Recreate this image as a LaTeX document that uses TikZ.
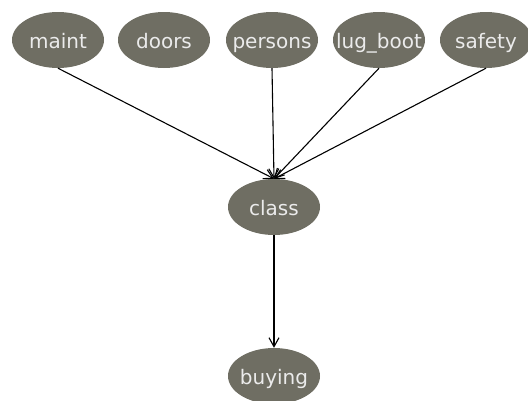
\documentclass[tikz,border=0pt]{standalone}
\usepackage{fontspec}
\setmainfont{DejaVu Sans}
\usetikzlibrary{shapes.geometric,arrows.meta}
\definecolor{nodegray}{RGB}{111,110,99}
\newcommand{\vlabel}[1]{\makebox[0pt]{#1}}
\begin{document}
\begin{tikzpicture}[x=1pt, y=-1pt,
          var/.style={ellipse, fill=nodegray, text=white!92!black, inner sep=0pt,
                      minimum width=92pt, minimum height=56pt,
                      text height=20pt, text depth=4pt,
                      font=\fontsize{20}{24}\selectfont},
          link/.style={-{Straight Barb[length=9pt,width=10pt]}, line width=1.1pt, black}]
        \useasboundingbox (0,0) rectangle (528,400);
        \node[var] (maint) at (58,40) {\vlabel{maint}};
        \node[var] (doors) at (164,40) {\vlabel{doors}};
        \node[var] (persons) at (272,40) {\vlabel{persons}};
        \node[var] (lugboot) at (379,40) {\vlabel{lug\_boot}};
        \node[var] (safety) at (486,40) {\vlabel{safety}};
        \node[var] (class) at (274,207) {\vlabel{class}};
        \node[var] (buying) at (274,376) {\vlabel{buying}};
        \draw[link] (maint.south) -- (class.north);
        \draw[link] (persons.south) -- (class.north);
        \draw[link] (lugboot.south) -- (class.north);
        \draw[link] (safety.south) -- (class.north);
        \draw[link] (class.south) -- (buying.north);
      \end{tikzpicture}
\end{document}
